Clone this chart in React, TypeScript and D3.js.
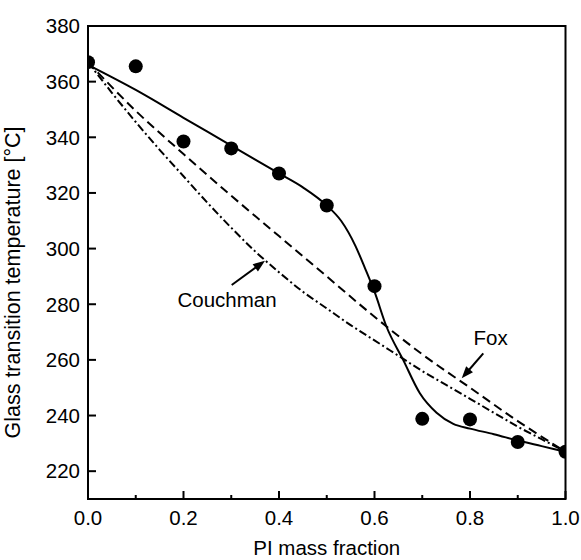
import React from "react";
import * as d3 from "d3";

const W = 581;
const H = 560;

// measured data
const measX = [0, 0.1, 0.2, 0.3, 0.4, 0.5, 0.6, 0.7, 0.8, 0.9, 1.0];
const measY = [367, 365.5, 338.5, 336, 327, 315.5, 286.5, 238.8, 238.6, 230.5, 227];

// solid fitted curve
const fitX = [0, 0.1, 0.2, 0.3, 0.4, 0.45, 0.5, 0.53, 0.56, 0.58, 0.6, 0.625, 0.66, 0.695, 0.73, 0.765, 0.8, 0.85, 0.9, 0.95, 1.0];
const fitY = [366, 357, 347, 337, 327, 322, 315.5, 310, 301, 293, 284.5, 272, 260, 248, 241, 237, 235.3, 233.3, 231, 229, 227];

// Fox equation curve (dashed)
const foxX = [0, 0.1, 0.2, 0.3, 0.4, 0.5, 0.6, 0.7, 0.8, 0.9, 1.0];
const foxY = [367, 349.5, 334, 319, 304.5, 290, 275.5, 262, 250, 238, 227];

// Couchman equation curve (dash-dot)
const couchX = [0, 0.05, 0.1, 0.15, 0.2, 0.25, 0.3, 0.35, 0.4, 0.45, 0.5, 0.55, 0.6, 0.65, 0.7, 0.75, 0.8, 0.85, 0.9, 0.95, 1.0];
const couchY = [367, 356, 345.5, 335.5, 326, 316.5, 307.5, 299, 291.5, 284.5, 278.5, 272.5, 267, 261.5, 256, 251, 246, 241, 236, 231.5, 227];

const xMajor = [0, 0.2, 0.4, 0.6, 0.8, 1.0];
const xMinor = [0.1, 0.3, 0.5, 0.7, 0.9];
const yMajor = [220, 240, 260, 280, 300, 320, 340, 360, 380];

const FONT = "'Liberation Sans', Arial, Helvetica, sans-serif";

export default function App() {
  const left = 88, right = 565.5, top = 26, bottom = 499;
  const x = d3.scaleLinear().domain([0, 1]).range([left, right]);
  const y = d3.scaleLinear().domain([210, 380]).range([bottom, top]);

  const line = d3
    .line<[number, number]>()
    .x((d) => x(d[0]))
    .y((d) => y(d[1]))
    .curve(d3.curveMonotoneX);

  const fitPath = line(fitX.map((v, i) => [v, fitY[i]]) as [number, number][]) || "";
  const foxPath = line(foxX.map((v, i) => [v, foxY[i]]) as [number, number][]) || "";
  const couchPath = line(couchX.map((v, i) => [v, couchY[i]]) as [number, number][]) || "";

  // arrows (annotation positions in data coords)
  const couchArrow = { from: [x.invert(231.7), y.invert(285)], to: [x.invert(265), y.invert(260.7)] };
  const foxArrow = { from: [x.invert(483.3), y.invert(353.3)], to: [x.invert(461.7), y.invert(378.3)] };

  const arrowHead = (fx: number, fy: number, tx: number, ty: number) => {
    const ang = Math.atan2(ty - fy, tx - fx);
    const len = 12, wid = 4.5;
    const bx = tx - len * Math.cos(ang), by = ty - len * Math.sin(ang);
    const px = -Math.sin(ang) * wid, py = Math.cos(ang) * wid;
    return `M${tx},${ty}L${bx + px},${by + py}L${bx - px},${by - py}Z`;
  };
  const arrow = (a: { from: number[]; to: number[] }) => {
    const fx = x(a.from[0]), fy = y(a.from[1]), tx = x(a.to[0]), ty = y(a.to[1]);
    const ang = Math.atan2(ty - fy, tx - fx);
    const ex = tx - 10 * Math.cos(ang), ey = ty - 10 * Math.sin(ang);
    return (
      <g>
        <line x1={fx} y1={fy} x2={ex} y2={ey} stroke="#000" strokeWidth={2} />
        <path d={arrowHead(fx, fy, tx, ty)} fill="#000" />
      </g>
    );
  };

  return (
    <svg width={W} height={H} style={{ position: "absolute", left: 0, top: 0, background: "#fff" }} fontFamily={FONT}>
      <defs>
        <clipPath id="plot">
          <rect x={left} y={top} width={right - left} height={bottom - top} />
        </clipPath>
      </defs>
      <rect x={0} y={0} width={W} height={H} fill="#fff" />

      <g clipPath="url(#plot)">
        <path d={foxPath} fill="none" stroke="#000" strokeWidth={2} strokeDasharray="9,5" />
        <path d={couchPath} fill="none" stroke="#000" strokeWidth={2} strokeDasharray="8,3,2,3" />
        <path d={fitPath} fill="none" stroke="#000" strokeWidth={2} />
        {measX.map((v, i) => (
          <circle key={i} cx={x(v)} cy={y(measY[i])} r={7} fill="#000" />
        ))}
      </g>

      {/* frame */}
      <rect x={left} y={top} width={right - left} height={bottom - top} fill="none" stroke="#000" strokeWidth={2} />

      {/* x ticks */}
      {xMajor.map((v) => (
        <g key={"xm" + v}>
          <line x1={x(v)} x2={x(v)} y1={bottom} y2={bottom - 8} stroke="#000" strokeWidth={2} />
          <text x={x(v)} y={525} textAnchor="middle" fontSize={20.5} fill="#000">
            {v.toFixed(1)}
          </text>
        </g>
      ))}
      {xMinor.map((v) => (
        <line key={"xn" + v} x1={x(v)} x2={x(v)} y1={bottom} y2={bottom - 4} stroke="#000" strokeWidth={2} />
      ))}

      {/* y ticks */}
      {yMajor.map((v) => (
        <g key={"ym" + v}>
          <line x1={left} x2={left + 8} y1={y(v)} y2={y(v)} stroke="#000" strokeWidth={2} />
          <text x={80} y={y(v) + 7.3} textAnchor="end" fontSize={20.5} fill="#000">
            {v}
          </text>
        </g>
      ))}

      {/* axis titles */}
      <text x={(left + right) / 2} y={555} textAnchor="middle" fontSize={20.5} fill="#000">
        PI mass fraction
      </text>
      <text
        transform={`translate(20,${(top + bottom) / 2 + 20}) rotate(-90)`}
        textAnchor="middle"
        fontSize={21.5}
        fill="#000"
      >
        Glass transition temperature [°C]
      </text>

      {/* annotations */}
      {arrow(couchArrow)}
      <text x={227} y={307.3} textAnchor="middle" fontSize={20.5} fill="#000">
        Couchman
      </text>
      {arrow(foxArrow)}
      <text x={490.7} y={345} textAnchor="middle" fontSize={20.5} fill="#000">
        Fox
      </text>
    </svg>
  );
}
